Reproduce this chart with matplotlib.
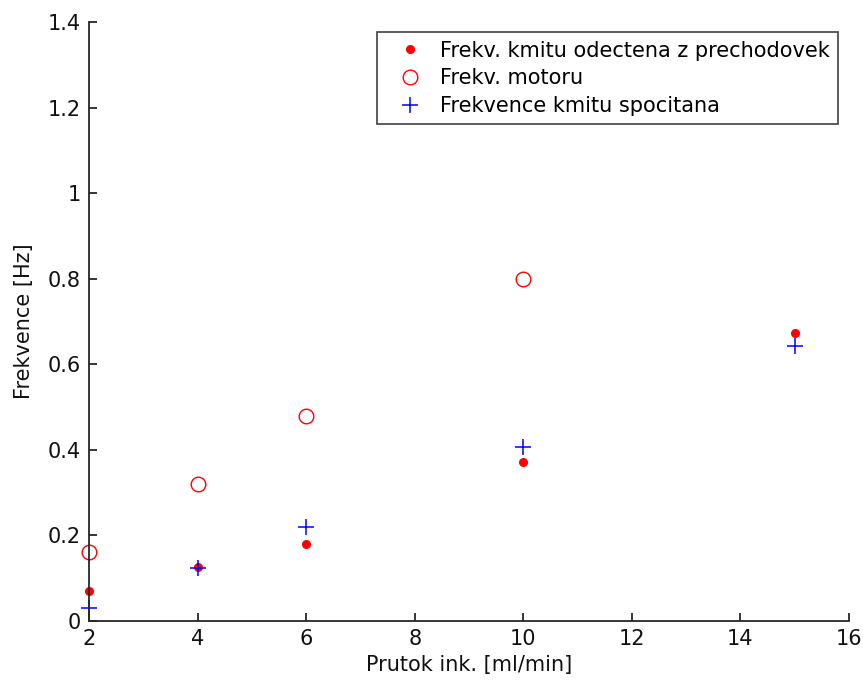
import matplotlib.pyplot as plt

# flow rate [ml/min]
prutok = [2, 4, 6, 10, 15]
prutok_motor = [2, 4, 6, 10]

frekv_prechodovky = [0.069, 0.127, 0.179, 0.372, 0.674]
frekv_motoru = [0.162, 0.32, 0.48, 0.80]
frekv_spocitana = [0.03, 0.124, 0.219, 0.406, 0.643]

AXIS_COLOR = "#262626"

plt.rcParams["font.family"] = "DejaVu Sans"

fig = plt.figure(figsize=(8.63, 6.84), dpi=100)
ax = fig.add_axes([89 / 863, 63 / 684, 760 / 863, 599 / 684])

ax.plot(prutok, frekv_prechodovky, linestyle="", marker=".", markersize=11,
        color="#ff0000", clip_on=False,
        label="Frekv. kmitu odectena z prechodovek")
ax.plot(prutok_motor, frekv_motoru, linestyle="", marker="o", markersize=10.5,
        markerfacecolor="none", markeredgecolor="#ff0000", markeredgewidth=1.0,
        clip_on=False, label="Frekv. motoru")
ax.plot(prutok, frekv_spocitana, linestyle="", marker="+", markersize=12,
        markeredgewidth=1.1, color="#0000ff", clip_on=False,
        label="Frekvence kmitu spocitana")

ax.set_xlim(2, 16)
ax.set_ylim(0, 1.4)
ax.set_xticks([2, 4, 6, 8, 10, 12, 14, 16])
ax.set_yticks([0, 0.2, 0.4, 0.6, 0.8, 1.0, 1.2, 1.4])
ax.set_yticklabels(["0", "0.2", "0.4", "0.6", "0.8", "1", "1.2", "1.4"])

ax.spines["top"].set_visible(False)
ax.spines["right"].set_visible(False)
for side in ("left", "bottom"):
    ax.spines[side].set_color(AXIS_COLOR)
    ax.spines[side].set_linewidth(1.3)
ax.tick_params(direction="in", length=6, width=1.3, color=AXIS_COLOR,
               labelsize=15, labelcolor="#111111", pad=6)

ax.set_xlabel("Prutok ink. [ml/min]", fontsize=15, color="#111111", labelpad=4)
ax.set_ylabel("Frekvence [Hz]", fontsize=15, color="#111111", labelpad=10)

leg = ax.legend(loc="upper right", bbox_to_anchor=(0.9855, 0.983),
                borderaxespad=0, fontsize=15, frameon=True, fancybox=False,
                labelspacing=0.37, handlelength=2.3, handletextpad=0.3,
                borderpad=0.4, numpoints=1)
leg.get_frame().set_edgecolor("#111111")
leg.get_frame().set_linewidth(1.2)

fig.savefig("out.png", dpi=100)
